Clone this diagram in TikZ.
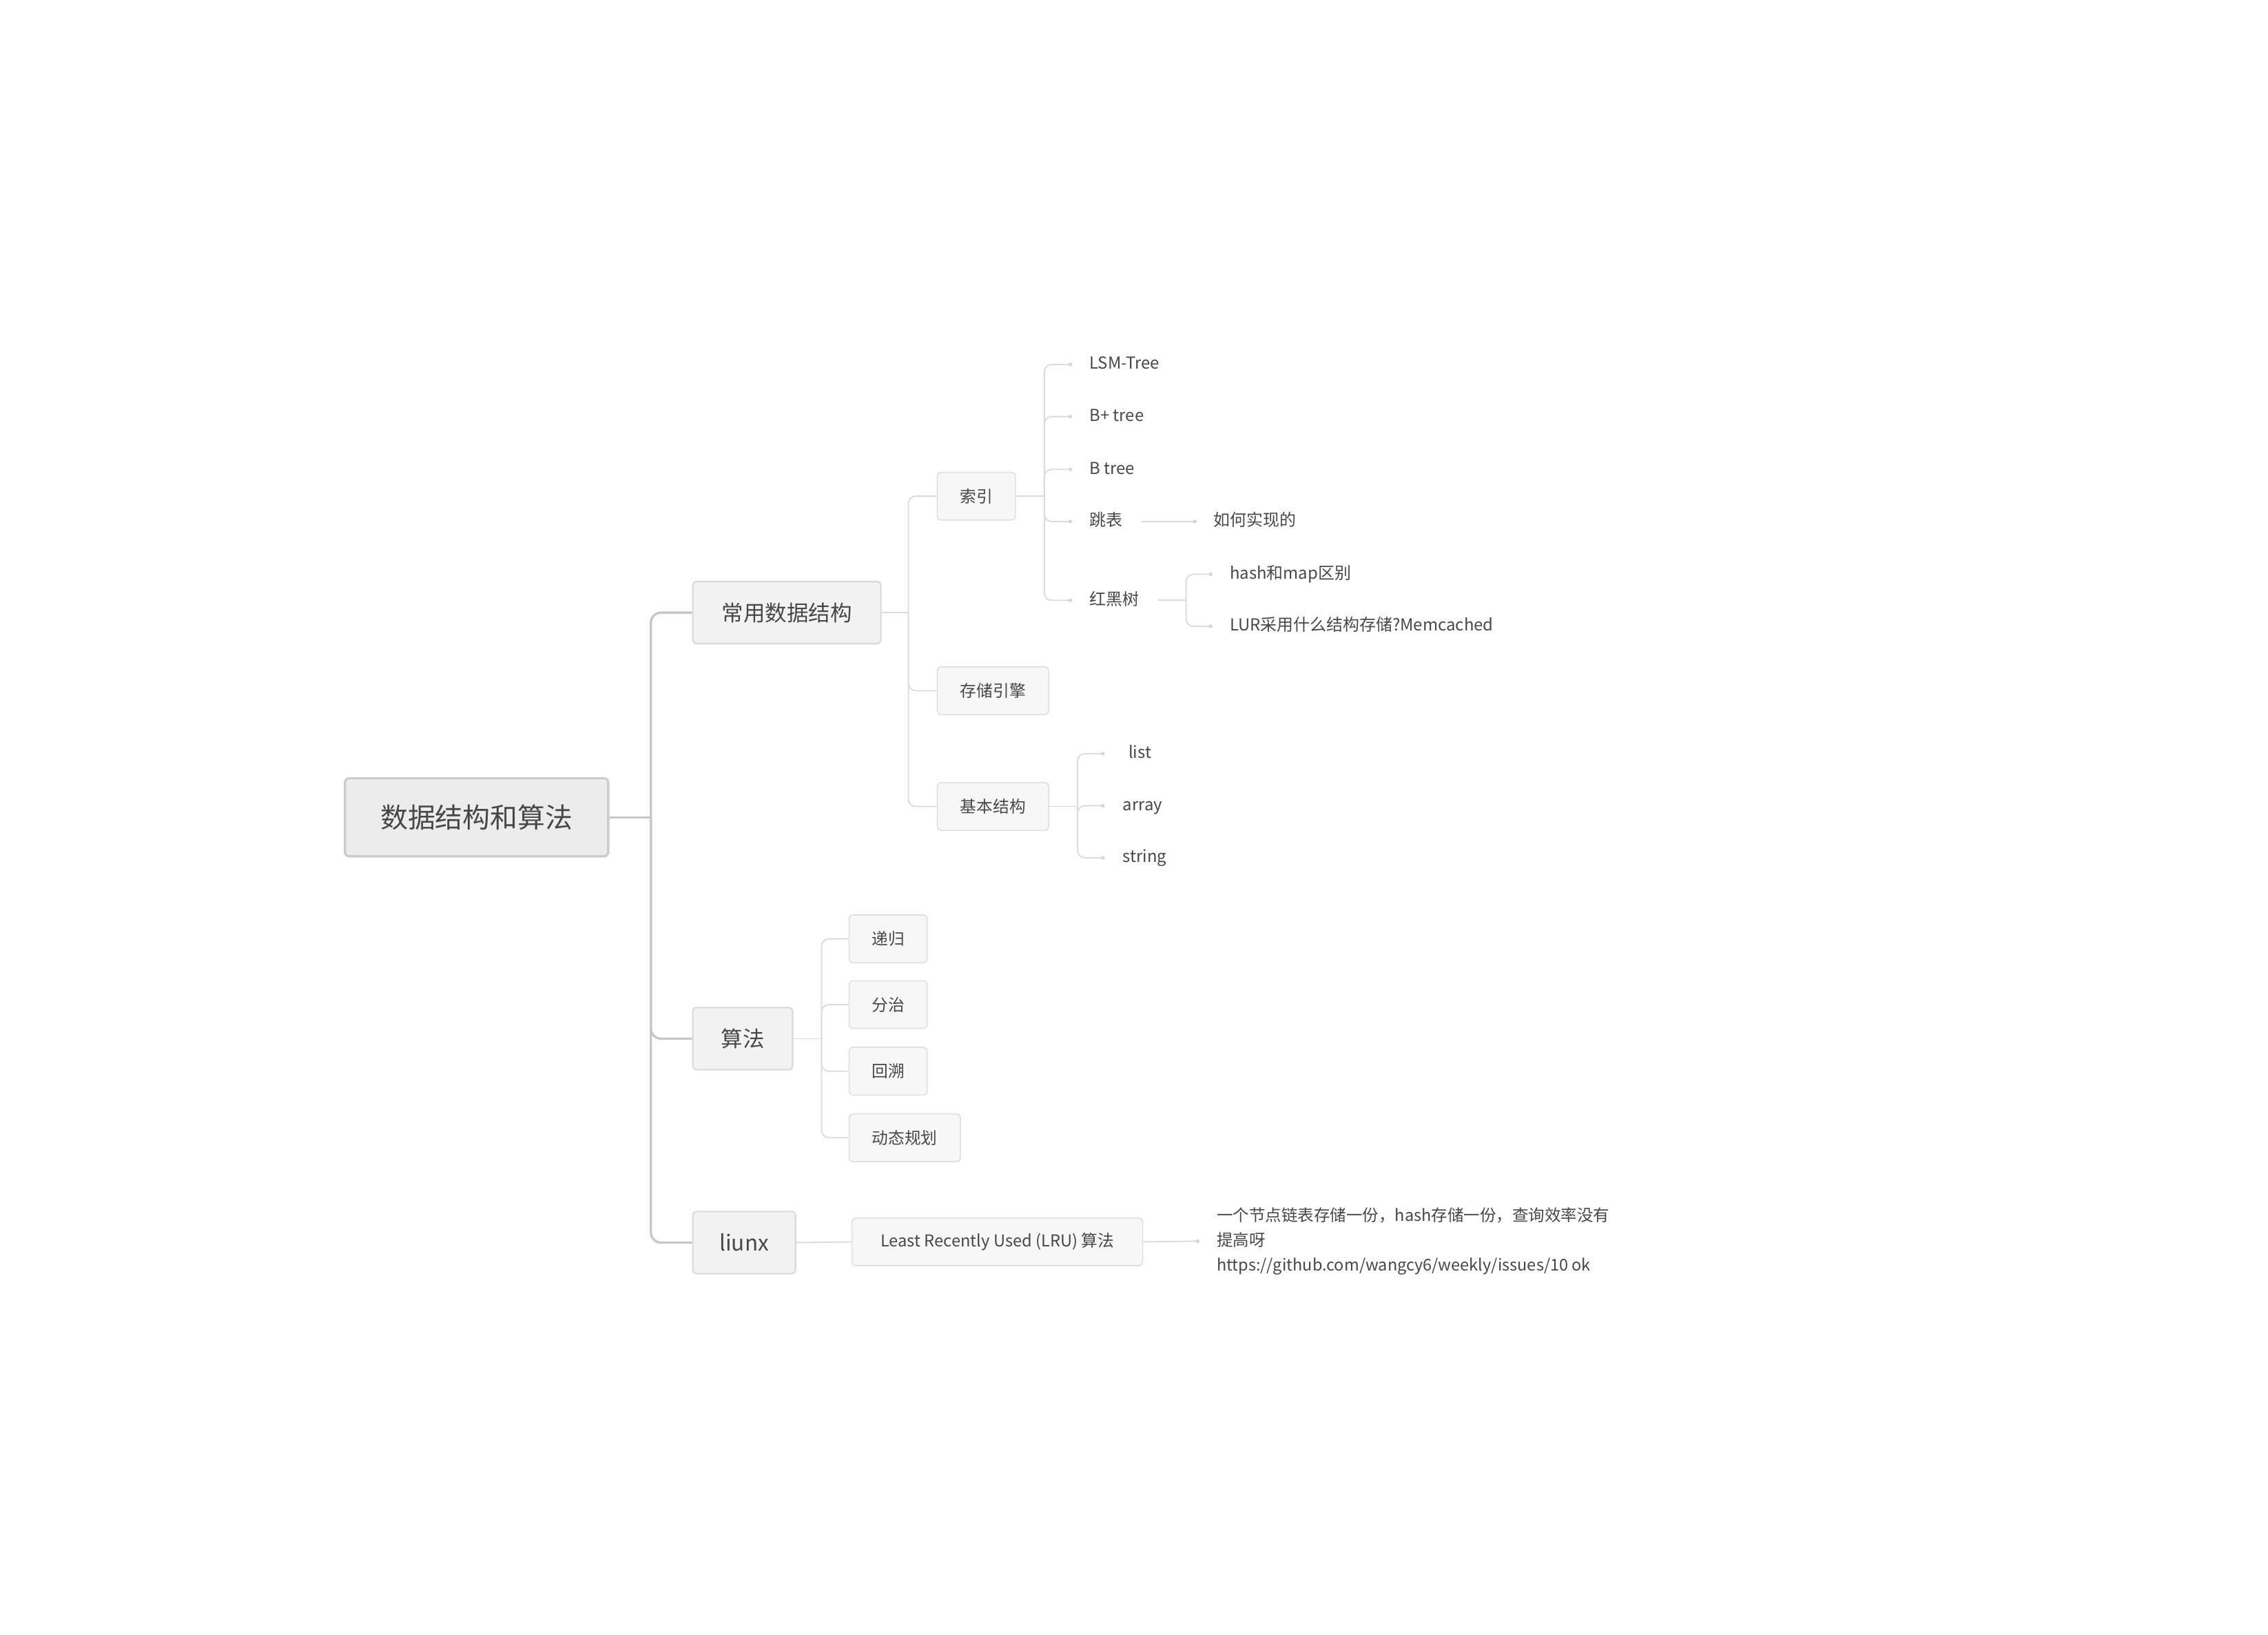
\documentclass[tikz,border=0pt]{standalone}
\usepackage{fontspec}
\setmainfont{Noto Sans CJK SC}
\begin{document}
\begin{tikzpicture}[x=1pt,y=-1pt,
  txt/.style={text=black!72},
  rootbox/.style={txt,draw=black!20,fill=black!7.5,line width=1.6pt,rounded corners=3pt,
    minimum height=54pt,inner sep=0pt,font=\fontsize{19}{22}\selectfont},
  mainbox/.style={txt,draw=black!15,fill=black!5,line width=1pt,rounded corners=2.5pt,
    minimum height=43pt,inner sep=0pt,font=\fontsize{15}{18}\selectfont},
  subbox/.style={txt,draw=black!12,fill=black!3,line width=0.8pt,rounded corners=2.5pt,
    minimum height=33pt,inner sep=0pt,font=\fontsize{11.3}{14}\selectfont},
  leaf/.style={txt,anchor=west,inner xsep=13pt,inner ysep=2pt,text height=9pt,text depth=2.6pt,
    font=\fontsize{11.4}{14}\selectfont},
  trunk/.style={draw=black!22,line width=1.6pt,rounded corners=7pt},
  twig/.style={draw=black!14,line width=0.9pt,rounded corners=5pt},
  tip/.style={fill=black!16,draw=none}
]
\useasboundingbox (0,0) rectangle (1568,1130);

% root and main branches
\node[rootbox,minimum width=182pt] (root) at (329.5,565) {数据结构和算法};
\node[mainbox,minimum width=130pt] (cs) at (544,423.5) {常用数据结构};
\node[mainbox,minimum width=69pt] (sf) at (513.5,718) {算法};
\node[mainbox,minimum width=71pt] (lx) at (514.5,859) {liunx};

% second level boxes
\node[subbox,minimum width=54pt] (sy) at (675,343) {索引};
\node[subbox,minimum width=77pt] (ccyq) at (686.5,477.5) {存储引擎};
\node[subbox,minimum width=77pt] (jbjg) at (686.5,557.5) {基本结构};
\node[subbox,minimum width=54pt] (dg) at (614,649) {递归};
\node[subbox,minimum width=54pt] (fz) at (614,694.5) {分治};
\node[subbox,minimum width=54pt] (hs) at (614,740.5) {回溯};
\node[subbox,minimum width=77pt] (dtgh) at (625.5,786.5) {动态规划};
\node[subbox,minimum width=201pt] (lru) at (689.5,858.5) {Least Recently Used (LRU) 算法};

% leaves
\node[leaf] (lsm) at (740,252) {LSM-Tree};
\node[leaf] (bp) at (740,288) {B+ tree};
\node[leaf] (bt) at (740,324.5) {B tree};
\node[leaf] (tb) at (740,360.5) {跳表};
\node[leaf] (hhs) at (740,415) {红黑树};
\node[leaf] (rhsx) at (826,360.5) {如何实现的};
\node[leaf] (hm) at (837,397) {hash和map区别};
\node[leaf] (lur) at (837,433) {LUR采用什么结构存储?Memcached};
\node[leaf,inner xsep=17.5pt] (lst) at (762.5,521) {list};
\node[leaf,inner xsep=13.5pt] (arr) at (762.5,557) {array};
\node[leaf,inner xsep=13.5pt] (str) at (762.5,593) {string};
\node[leaf,align=left,text height=,text depth=,font=\fontsize{11.2}{17}\selectfont] (note) at (828,858)
  {一个节点链表存储一份，hash存储一份，查询效率没有\\提高呀\\https://github.com/wangcy6/weekly/issues/10 ok};

% junction points
\coordinate (jr) at (450,565);
\coordinate (jcs) at (628,423.5);
\coordinate (jsy) at (722,343);
\coordinate (jhh) at (820,415);
\coordinate (jjb) at (745,557.5);
\coordinate (jsf) at (568,718);

% trunk
\draw[trunk] (root.east) -- (jr);
\draw[trunk] (jr) |- (cs.west);
\draw[trunk] (jr) |- (sf.west);
\draw[trunk] (jr) |- (lx.west);

% 常用数据结构
\draw[twig] (cs.east) -- (jcs);
\draw[twig] (jcs) |- (sy.west);
\draw[twig] (jcs) |- (ccyq.west);
\draw[twig] (jcs) |- (jbjg.west);

% 索引
\draw[twig] (sy.east) -- (jsy);
\foreach \n in {lsm,bp,bt,tb,hhs}{
  \draw[twig] (jsy) |- (\n.west);
  \fill[tip] (\n.west) circle (1.3pt);
}
\draw[twig] (tb.east) -- (rhsx.west);
\fill[tip] (rhsx.west) circle (1.3pt);
\draw[twig] (hhs.east) -- (jhh);
\foreach \n in {hm,lur}{
  \draw[twig] (jhh) |- (\n.west);
  \fill[tip] (\n.west) circle (1.3pt);
}

% 基本结构
\draw[twig] (jbjg.east) -- (jjb);
\foreach \n in {lst,arr,str}{
  \draw[twig] (jjb) |- (\n.west);
  \fill[tip] (\n.west) circle (1.3pt);
}

% 算法
\draw[twig] (sf.east) -- (jsf);
\foreach \n in {dg,fz,hs,dtgh}{
  \draw[twig] (jsf) |- (\n.west);
}

% liunx
\draw[twig] (lx.east) -- (lru.west);
\draw[twig] (lru.east) -- (note.west);
\fill[tip] (note.west) circle (1.3pt);
\end{tikzpicture}
\end{document}
